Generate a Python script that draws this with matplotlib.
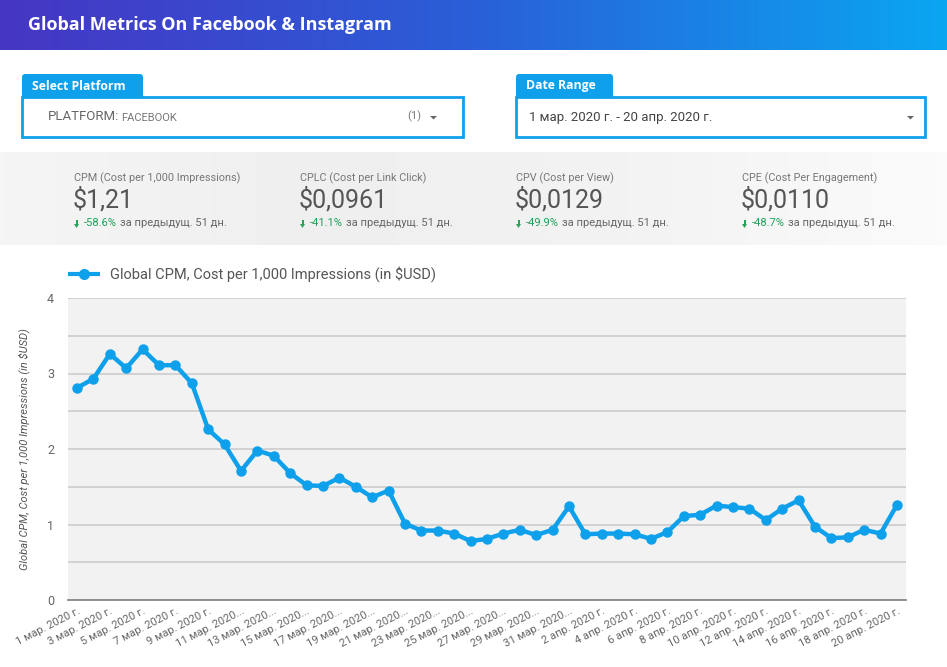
import numpy as np
import matplotlib
matplotlib.use("Agg")
import matplotlib.pyplot as plt
from matplotlib.patches import Rectangle, FancyBboxPatch, Polygon
from matplotlib.colors import LinearSegmentedColormap

# ---------------- data ----------------
cpm_values = [2.81, 2.93, 3.26, 3.07, 3.32, 3.11, 3.11, 2.87, 2.26, 2.06,
              1.71, 1.98, 1.91, 1.68, 1.52, 1.51, 1.62, 1.50, 1.36, 1.45,
              1.01, 0.92, 0.92, 0.88, 0.78, 0.81, 0.88, 0.93, 0.86, 0.93,
              1.24, 0.87, 0.88, 0.88, 0.87, 0.81, 0.90, 1.11, 1.13, 1.25,
              1.23, 1.21, 1.06, 1.21, 1.32, 0.97, 0.82, 0.83, 0.93, 0.88,
              1.26]
x_tick_labels = ["1 мар. 2020 г.", "3 мар. 2020 г.", "5 мар. 2020 г.", "7 мар. 2020 г.",
                 "9 мар. 2020 г.", "11 мар. 2020...", "13 мар. 2020...", "15 мар. 2020...",
                 "17 мар. 2020...", "19 мар. 2020...", "21 мар. 2020...", "23 мар. 2020...",
                 "25 мар. 2020...", "27 мар. 2020...", "29 мар. 2020...", "31 мар. 2020...",
                 "2 апр. 2020 г.", "4 апр. 2020 г.", "6 апр. 2020 г.", "8 апр. 2020 г.",
                 "10 апр. 2020 г.", "12 апр. 2020 г.", "14 апр. 2020 г.", "16 апр. 2020 г.",
                 "18 апр. 2020 г.", "20 апр. 2020 г."]
y_ticks = [0, 1, 2, 3, 4]

kpi_titles = ["CPM (Cost per 1,000 Impressions)", "CPLC (Cost per Link Click)",
              "CPV (Cost per View)", "CPE (Cost Per Engagement)"]
kpi_values = ["$1,21", "$0,0961", "$0,0129", "$0,0110"]
kpi_changes = ["-58.6%", "-41.1%", "-49.9%", "-48.7%"]
kpi_suffix = "за предыдущ. 51 дн."

title = "Global Metrics On Facebook & Instagram"
series_name = "Global CPM, Cost per 1,000 Impressions (in $USD)"

# ---------------- figure ----------------
W, H = 947, 667
plt.rcParams['font.family'] = ['Roboto', 'DejaVu Sans']
fig = plt.figure(figsize=(W / 100, H / 100), dpi=100)
fig.patch.set_facecolor("white")

ov = fig.add_axes([0, 0, 1, 1])
ov.set_xlim(0, W)
ov.set_ylim(H, 0)
ov.axis("off")
ov.set_zorder(0)

# header gradient
hcmap = LinearSegmentedColormap.from_list("hdr", ["#4636c4", "#2a5fd8", "#0aa6f2"])
grad = np.linspace(0, 1, 256).reshape(1, -1)
ov.imshow(grad, cmap=hcmap, extent=(0, W, 50, 0), aspect="auto", zorder=1)
ov.text(28, 25, title, color="white", fontsize=13, fontweight="bold",
        family=["Open Sans", "DejaVu Sans"], va="center", ha="left", zorder=3)

# KPI band gradient
kcmap = LinearSegmentedColormap.from_list("kpi", ["#f5f5f5", "#efefef", "#f3f3f3", "#fbfbfb"])
ov.imshow(grad, cmap=kcmap, extent=(0, W, 245, 152), aspect="auto", zorder=1)

blue = "#0fa0ec"

def control(x0, x1, tab_w, label):
    ov.add_patch(FancyBboxPatch((x0, 74), tab_w, 26, boxstyle="round,pad=0,rounding_size=3",
                                facecolor=blue, edgecolor="none", zorder=2))
    ov.text(x0 + 10, 86, label, color="white", fontsize=8.8, fontweight="bold",
            family=["Open Sans", "DejaVu Sans"], va="center", ha="left", zorder=3)
    ov.add_patch(Rectangle((x0, 97), x1 - x0, 40, facecolor="white", edgecolor=blue,
                           linewidth=2, zorder=2))

control(22, 463, 121, "Select Platform")
control(516, 925, 97, "Date Range")

ov.text(48, 117, "PLATFORM:", color="#666666", fontsize=9.5, va="center", ha="left", zorder=3)
ov.text(121, 118, "FACEBOOK", color="#777777", fontsize=8, va="center", ha="left", zorder=3)
ov.text(407, 116, "(1)", color="#777777", fontsize=8, va="center", ha="left", zorder=3)
ov.add_patch(Polygon([[430, 116], [437, 116], [433.5, 119.5]], closed=True,
                     facecolor="#666666", edgecolor="none", zorder=3))
ov.text(529, 117, "1 мар. 2020 г. - 20 апр. 2020 г.", color="#444444", fontsize=9.5,
        va="center", ha="left", zorder=3)
ov.add_patch(Polygon([[907, 116], [914, 116], [910.5, 119.5]], closed=True,
                     facecolor="#666666", edgecolor="none", zorder=3))

# KPIs
kpi_x = [74, 300, 516, 742]
fig.canvas.draw()
renderer = fig.canvas.get_renderer()
for xk, t, v, c in zip(kpi_x, kpi_titles, kpi_values, kpi_changes):
    ov.text(xk, 178, t, color="#777777", fontsize=7.8, va="center", ha="left", zorder=3)
    ov.text(xk - 1, 200, v, color="#555555", fontsize=18, va="center", ha="left", zorder=3)
    ov.add_patch(Rectangle((xk + 1.5, 220), 2.2, 5, facecolor="#2aa35a", edgecolor="none", zorder=3))
    ov.add_patch(Polygon([[xk, 224], [xk + 5, 224], [xk + 2.5, 228]], closed=True,
                         facecolor="#2aa35a", edgecolor="none", zorder=3))
    tc = ov.text(xk + 10, 223, c, color="#1e9e58", fontsize=8, va="center", ha="left", zorder=3)
    bb = tc.get_window_extent(renderer=renderer)
    ov.annotate(kpi_suffix, xy=(bb.x1 + 3, H - 223), xycoords="figure pixels",
                color="#666666", fontsize=8, va="center", ha="left", zorder=3)

# legend line
ov.plot([68, 100], [274, 274], color=blue, linewidth=3, solid_capstyle="butt", zorder=3)
ov.plot([84], [274], marker="o", markersize=7, color=blue, zorder=3)
ov.text(110, 274, series_name, color="#555555", fontsize=10.5, va="center", ha="left", zorder=3)

# ---------------- chart ----------------
px0, px1, py0, py1 = 68, 906, 298, 600
ax = fig.add_axes([px0 / W, (H - py1) / H, (px1 - px0) / W, (py1 - py0) / H])
ax.set_zorder(2)
ax.set_facecolor("#f2f2f2")
x = np.arange(len(cpm_values))
ax.plot(x, cpm_values, color=blue, linewidth=3.2, marker="o", markersize=6.5,
        solid_joinstyle="round", zorder=3, clip_on=False)
ax.set_xlim(-0.55, len(cpm_values) - 1 + 0.55)
ax.set_ylim(0, 4)
ax.set_yticks(y_ticks)
ax.set_yticklabels([str(v) for v in y_ticks])
ax.set_yticks(np.arange(0.5, 4, 1.0), minor=True)
ax.grid(True, axis="y", which="both", color="#cfcfcf", linewidth=1.3, zorder=1)
ax.set_axisbelow(True)
ax.set_xticks(x[::2])
ax.set_xticklabels(x_tick_labels, rotation=27, ha="right", rotation_mode="anchor",
                   fontsize=8, color="#666666")
ax.tick_params(axis="x", length=0, pad=4)
ax.tick_params(axis="y", which="both", length=0, pad=10, labelsize=9, labelcolor="#666666")
for s in ["top", "right", "left"]:
    ax.spines[s].set_visible(False)
ax.spines["bottom"].set_color("#888888")
ax.spines["bottom"].set_linewidth(1.3)
ax.set_ylabel(series_name, fontsize=8, style="italic", color="#555555", labelpad=12)

fig.savefig("out.png", dpi=100, facecolor="white")
